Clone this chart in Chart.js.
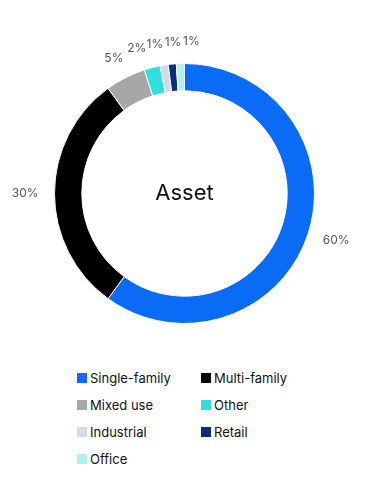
<!DOCTYPE html>
<html lang="en">
<head>
    <meta charset="UTF-8">
    <title>Asset</title>
    <style>
        body {
            margin: 0;
            background: #fff;
            font-family: Inter, "Noto Sans", Arial, sans-serif;
        }
        .wrap {
            position: relative;
            width: 368px;
            height: 477px;
        }
        .chart-box {
            position: absolute;
            left: 0;
            top: 0;
            width: 368px;
            height: 340px;
        }
        #legend {
            position: absolute;
            left: 77px;
            top: 370px;
            display: grid;
            grid-template-columns: 124px 120px;
            grid-auto-rows: 27px;
            font-size: 13px;
            color: #111;
        }
        .item {
            display: flex;
            align-items: center;
            height: 16px;
        }
        .box {
            width: 10px;
            height: 10px;
            margin-right: 3px;
            flex: none;
        }
    </style>
</head>
<body>
    <div class="wrap">
        <div class="chart-box">
            <canvas id="assetChart"></canvas>
        </div>
        <div id="legend"></div>
    </div>
    <script src="https://cdn.jsdelivr.net/npm/chart.js"></script>
    <script>
        const categories = ['Single-family', 'Multi-family', 'Mixed use', 'Other', 'Industrial', 'Retail', 'Office'];
        const shares = [60, 30, 5, 2, 1, 1, 1];
        const colors = ['#0a6cf6', '#000000', '#a7a7a9', '#2fdfdf', '#d2dbe2', '#0a2f78', '#aef1f1'];
        const centerTitle = 'Asset';

        // percent labels outside the ring, small ones pushed apart by angle
        const outsideLabels = {
            id: 'outsideLabels',
            afterDatasetsDraw(chart) {
                const ctx = chart.ctx;
                const arcs = chart.getDatasetMeta(0).data;
                const minGap = 6.8 * Math.PI / 180;
                const items = arcs.map((arc, i) => ({
                    i: i,
                    angle: (arc.startAngle + arc.endAngle) / 2,
                    r: arc.outerRadius + 16,
                    x0: arc.x,
                    y0: arc.y
                }));
                for (let k = 0; k < 100; k++) {
                    for (let j = 1; j < items.length; j++) {
                        const a = items[j - 1], b = items[j];
                        const d = b.angle - a.angle;
                        if (d < minGap) {
                            const push = (minGap - d) / 2;
                            a.angle -= push;
                            b.angle += push;
                        }
                    }
                }
                ctx.save();
                ctx.font = '12px Inter, "Noto Sans", sans-serif';
                ctx.fillStyle = '#555';
                ctx.textAlign = 'center';
                ctx.textBaseline = 'middle';
                items.forEach(it => {
                    const text = shares[it.i] + '%';
                    const hw = ctx.measureText(text).width / 2;
                    const c = Math.cos(it.angle), s = Math.sin(it.angle);
                    const x = it.x0 + c * (it.r + hw);
                    const y = it.y0 + s * (it.r + 6);
                    ctx.fillText(text, x, y);
                });
                ctx.restore();
            }
        };

        const centerText = {
            id: 'centerText',
            afterDraw(chart) {
                const arc = chart.getDatasetMeta(0).data[0];
                const ctx = chart.ctx;
                ctx.save();
                ctx.font = '22px Inter, "Noto Sans", sans-serif';
                ctx.fillStyle = '#111';
                ctx.textAlign = 'center';
                ctx.textBaseline = 'middle';
                ctx.fillText(centerTitle, arc.x, arc.y);
                ctx.restore();
            }
        };

        const chart = new Chart(document.getElementById('assetChart'), {
            type: 'doughnut',
            data: {
                labels: categories,
                datasets: [{
                    data: shares,
                    backgroundColor: colors,
                    borderColor: '#ffffff',
                    borderWidth: 1
                }]
            },
            options: {
                responsive: true,
                maintainAspectRatio: false,
                animation: false,
                cutout: '79%',
                layout: {
                    padding: { left: 54, right: 53, top: 63, bottom: 16 }
                },
                plugins: {
                    legend: { display: false },
                    tooltip: { enabled: false }
                }
            },
            plugins: [outsideLabels, centerText]
        });

        const legend = document.getElementById('legend');
        categories.forEach((name, i) => {
            const item = document.createElement('div');
            item.className = 'item';
            item.innerHTML = '<span class="box" style="background:' + colors[i] + '"></span><span>' + name + '</span>';
            legend.appendChild(item);
        });
    </script>
</body>
</html>
